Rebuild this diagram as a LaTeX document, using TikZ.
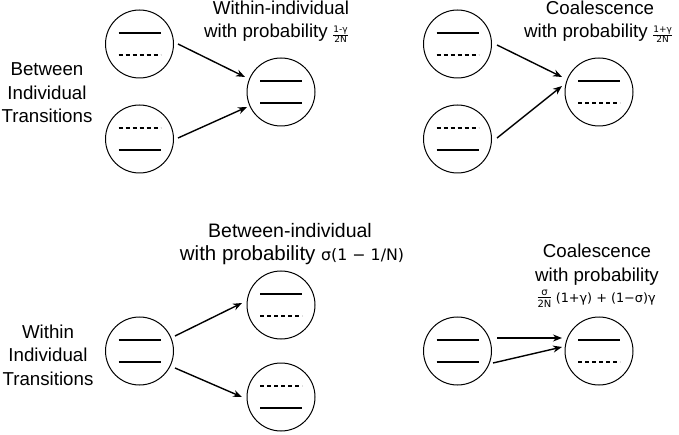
\documentclass[tikz,border=0pt]{standalone}
\usepackage{amsmath}
\usepackage{fontspec}
\setmainfont{Liberation Sans}
\newfontfamily\dv{DejaVu Sans}
\usetikzlibrary{calc,arrows.meta}
\newcommand{\smallfrac}[3]{$\genfrac{}{}{0.5pt}{}{\hbox{\fontsize{#3}{#3}\dv #1}}{\hbox{\fontsize{#3}{#3}\dv #2}}$}
\newcommand{\innerlines}[3]{%
  \draw[#2] ($(#1)+(-21,-11)$) -- ($(#1)+(21,-11)$);
  \draw[#3] ($(#1)+(-21,11)$) -- ($(#1)+(21,11)$);}
\begin{document}
\begin{tikzpicture}[x=1pt,y=-1pt,
  cell/.style={circle,draw,line width=1pt,minimum size=68pt,inner sep=0pt},
  fullline/.style={line width=1.5pt},
  dashline/.style={line width=1.5pt,dash pattern=on 4pt off 3pt},
  arr/.style={line width=1.4pt,-{Stealth[length=9pt,width=7pt]}},
  lbl/.style={font=\fontsize{18.7}{23}\selectfont,anchor=base,inner sep=0pt},
  fr/.style={anchor=base west,inner sep=0pt},
  side/.style={font=\fontsize{18.7}{23.5}\selectfont,align=center,inner sep=0pt}]
\useasboundingbox (0,0) rectangle (679,435);
% group 1
\node[cell] (A1) at (139.5,44) {};
\node[cell] (A2) at (139.5,139) {};
\node[cell] (B) at (281,92) {};
\innerlines{A1}{fullline}{dashline}
\innerlines{A2}{dashline}{fullline}
\innerlines{B}{fullline}{fullline}
\draw[arr] ($(A1)+(38.5,0)$) -- ($(B)+(-36,-15)$);
\draw[arr] ($(A2)+(38.5,-1)$) -- ($(B)+(-34,15)$);
\node[side] (t1) at (47,93) {Between\\Individual\\Transitions};
\node[lbl] (l1a) at (281,15) {Within-individual};
\node[lbl,anchor=base east] (l1b) at (328,38) {with probability};
\node[fr] (f1) at ($(l1b.base east)+(4,0)$) {\smallfrac{1-γ}{2N}{9}};
% group 2
\node[cell] (C1) at (457.5,44) {};
\node[cell] (C2) at (457.5,139) {};
\node[cell] (D) at (599,92) {};
\innerlines{C1}{fullline}{dashline}
\innerlines{C2}{dashline}{fullline}
\innerlines{D}{fullline}{dashline}
\draw[arr] ($(C1)+(39.5,1)$) -- ($(D)+(-37,-15)$);
\draw[arr] ($(C2)+(39.5,-1)$) -- ($(D)+(-37,-6)$);
\node[lbl] (l2a) at (600,15) {Coalescence};
\node[lbl,anchor=base east] (l2b) at (648,38) {with probability};
\node[fr] (f2) at ($(l2b.base east)+(4,0)$) {\smallfrac{1+γ}{2N}{9}};
% group 3
\node[cell] (E) at (139.5,351) {};
\node[cell] (F1) at (281,305) {};
\node[cell] (F2) at (281,397) {};
\innerlines{E}{fullline}{fullline}
\innerlines{F1}{fullline}{dashline}
\innerlines{F2}{dashline}{fullline}
\draw[arr] ($(E)+(35.5,-15)$) -- ($(F1)+(-39,-2)$);
\draw[arr] ($(E)+(35.5,17)$) -- ($(F2)+(-39,0)$);
\node[side] (t2) at (48,355) {Within\\Individual\\Transitions};
\node[lbl,font=\fontsize{19.5}{23}\selectfont] (l3a) at (290,238) {Between-individual};
\node[lbl,font=\fontsize{20.5}{24}\selectfont] (l3b) at (292,261) {with probability {\dv\fontsize{15.8}{18}\selectfont σ(1 − 1/N)}};
% group 4
\node[cell] (G) at (457.5,351) {};
\node[cell] (H) at (599,351) {};
\innerlines{G}{fullline}{fullline}
\innerlines{H}{fullline}{dashline}
\draw[arr] ($(G)+(39.5,-13)$) -- ($(H)+(-37,-13)$);
\draw[arr] ($(G)+(35.5,12)$) -- ($(H)+(-37,-4)$);
\node[lbl] (l4a) at (597,258) {Coalescence};
\node[lbl] (l4b) at (597,282) {with probability};
\node[lbl] (l4c) at (596,302) {\smallfrac{σ}{2N}{10}\,{\dv\fontsize{12.8}{14}\selectfont (1+γ) + (1−σ)γ}};
\end{tikzpicture}
\end{document}
